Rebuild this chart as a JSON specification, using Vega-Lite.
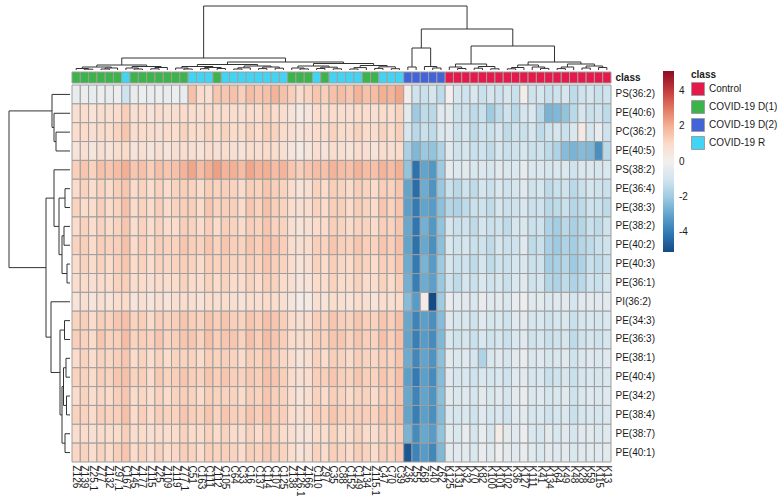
{
"$schema":"https://vega.github.io/schema/vega-lite/v6.json",
"padding":{"left":8,"top":5,"right":0,"bottom":0},
"columns":2,
"spacing":{"row":2,"column":2},
"bounds":"flush",
"config":{"view":{"stroke":null},"font":"Liberation Sans","axis":{"labelColor":"#1a1a1a"},"legend":{"labelColor":"#1a1a1a","titleColor":"#1a1a1a"}},
"concat":[
{"width":61,"height":64,"data":{"values":[]},"mark":"point","encoding":{}},
{"width":539,"height":64,
"data":{"values":[
{"xl":2,"xr":3,"hl":0,"hr":0,"h":0.8},{"xl":1,"xr":2.5,"hl":0,"hr":0.8,"h":1.5},{"xl":4,"xr":5,"hl":0,"hr":0,"h":1},{"xl":4.5,"xr":6,"hl":1,"hr":0,"h":2},{"xl":1.75,"xr":5.25,"hl":1.5,"hr":2,"h":3},
{"xl":8,"xr":9,"hl":0,"hr":0,"h":1},{"xl":7,"xr":8.5,"hl":0,"hr":1,"h":2},{"xl":10,"xr":11,"hl":0,"hr":0,"h":1.2},{"xl":10.5,"xr":12,"hl":1.2,"hr":0,"h":2.5},{"xl":7.75,"xr":11.25,"hl":2,"hr":2.5,"h":3.5},
{"xl":3.5,"xr":9.5,"hl":3,"hr":3.5,"h":5},{"xl":14,"xr":15,"hl":0,"hr":0,"h":1},{"xl":13,"xr":14.5,"hl":0,"hr":1,"h":2},{"xl":16,"xr":17,"hl":0,"hr":0,"h":1.3},{"xl":18,"xr":19,"hl":0,"hr":0,"h":1.5},
{"xl":16.5,"xr":18.5,"hl":1.3,"hr":1.5,"h":2.5},{"xl":13.75,"xr":17.5,"hl":2,"hr":2.5,"h":3.5},{"xl":20,"xr":21,"hl":0,"hr":0,"h":1},{"xl":20.5,"xr":22,"hl":1,"hr":0,"h":2.2},{"xl":23,"xr":24,"hl":0,"hr":0,"h":1.4},
{"xl":25,"xr":26,"hl":0,"hr":0,"h":1.8},{"xl":23.5,"xr":25.5,"hl":1.4,"hr":1.8,"h":3},{"xl":21.25,"xr":24.5,"hl":2.2,"hr":3,"h":4},{"xl":15.625,"xr":22.875,"hl":3.5,"hr":4,"h":5.5},
{"xl":28,"xr":29,"hl":0,"hr":0,"h":1.1},{"xl":27,"xr":28.5,"hl":0,"hr":1.1,"h":2},{"xl":30,"xr":31,"hl":0,"hr":0,"h":1.5},{"xl":32,"xr":33,"hl":0,"hr":0,"h":1.2},{"xl":30.5,"xr":32.5,"hl":1.5,"hr":1.2,"h":2.8},
{"xl":27.75,"xr":31.5,"hl":2,"hr":2.8,"h":4},{"xl":34,"xr":35,"hl":0,"hr":0,"h":1},{"xl":34.5,"xr":36,"hl":1,"hr":0,"h":2.4},{"xl":37,"xr":38,"hl":0,"hr":0,"h":1.6},{"xl":39,"xr":40,"hl":0,"hr":0,"h":1.3},
{"xl":37.5,"xr":39.5,"hl":1.6,"hr":1.3,"h":3.2},{"xl":35.25,"xr":38.5,"hl":2.4,"hr":3.2,"h":4.5},{"xl":29.625,"xr":36.875,"hl":4,"hr":4.5,"h":6.5},{"xl":19.25,"xr":33.25,"hl":5.5,"hr":6.5,"h":8},{"xl":6.5,"xr":26.25,"hl":5,"hr":8,"h":12},
{"xl":41,"xr":42,"hl":0,"hr":0,"h":3},{"xl":44,"xr":45,"hl":0,"hr":0,"h":2},{"xl":43,"xr":44.5,"hl":0,"hr":2,"h":3.5},{"xl":41.5,"xr":43.75,"hl":3,"hr":3.5,"h":22},
{"xl":47,"xr":48,"hl":0,"hr":0,"h":1.5},{"xl":46,"xr":47.5,"hl":0,"hr":1.5,"h":3},{"xl":49,"xr":50,"hl":0,"hr":0,"h":1.8},{"xl":51,"xr":52,"hl":0,"hr":0,"h":1.2},{"xl":49.5,"xr":51.5,"hl":1.8,"hr":1.2,"h":3.5},
{"xl":46.75,"xr":50.5,"hl":3,"hr":3.5,"h":6},{"xl":53,"xr":54,"hl":0,"hr":0,"h":1.2},{"xl":53.5,"xr":55,"hl":1.2,"hr":0,"h":2.5},{"xl":57,"xr":58,"hl":0,"hr":0,"h":1.6},{"xl":56,"xr":57.5,"hl":0,"hr":1.6,"h":3},
{"xl":54.25,"xr":56.75,"hl":2.5,"hr":3,"h":5},{"xl":59,"xr":60,"hl":0,"hr":0,"h":1.4},{"xl":59.5,"xr":61,"hl":1.4,"hr":0,"h":3},{"xl":62,"xr":63,"hl":0,"hr":0,"h":2},{"xl":64,"xr":65,"hl":0,"hr":0,"h":2.5},
{"xl":62.5,"xr":64.5,"hl":2,"hr":2.5,"h":4},{"xl":60.25,"xr":63.5,"hl":3,"hr":4,"h":6},{"xl":55.5,"xr":61.875,"hl":5,"hr":6,"h":8},{"xl":48.625,"xr":58.6875,"hl":6,"hr":8,"h":24},
{"xl":42.625,"xr":53.65625,"hl":22,"hr":24,"h":41},{"xl":16.375,"xr":48.140625,"hl":12,"hr":41,"h":64}
]},
"layer":[
{"mark":{"type":"rule","color":"#333333","strokeWidth":1},"encoding":{"x":{"field":"xl","type":"quantitative","scale":{"domain":[0.5,65.5],"nice":false,"zero":false},"axis":null},"x2":{"field":"xr"},"y":{"field":"h","type":"quantitative","scale":{"domain":[0,64],"nice":false},"axis":null}}},
{"mark":{"type":"rule","color":"#333333","strokeWidth":1},"encoding":{"x":{"field":"xl","type":"quantitative"},"y":{"field":"hl","type":"quantitative"},"y2":{"field":"h"}}},
{"mark":{"type":"rule","color":"#333333","strokeWidth":1},"encoding":{"x":{"field":"xr","type":"quantitative"},"y":{"field":"hr","type":"quantitative"},"y2":{"field":"h"}}}
]},
{"width":61,"height":11,"data":{"values":[]},"mark":"point","encoding":{}},
{"width":539,"height":11,
"data":{"values":[
{"c":"Z126","class":"COVID-19 D(1)"},{"c":"Z139","class":"COVID-19 D(1)"},{"c":"Z25.1","class":"COVID-19 D(1)"},{"c":"Z77","class":"COVID-19 D(1)"},{"c":"Z132","class":"COVID-19 D(1)"},{"c":"Z97.1","class":"COVID-19 D(1)"},{"c":"C167","class":"COVID-19 R"},{"c":"Z145","class":"COVID-19 D(1)"},{"c":"Z177","class":"COVID-19 D(1)"},{"c":"Z115","class":"COVID-19 D(1)"},
{"c":"Z25","class":"COVID-19 D(1)"},{"c":"Z109","class":"COVID-19 D(1)"},{"c":"Z119","class":"COVID-19 D(1)"},{"c":"Z77.1","class":"COVID-19 D(1)"},{"c":"C51","class":"COVID-19 R"},{"c":"C163","class":"COVID-19 R"},{"c":"C111","class":"COVID-19 R"},{"c":"Z112","class":"COVID-19 D(1)"},{"c":"C105","class":"COVID-19 R"},{"c":"C64","class":"COVID-19 R"},
{"c":"C33","class":"COVID-19 R"},{"c":"C16","class":"COVID-19 R"},{"c":"C137","class":"COVID-19 R"},{"c":"C114","class":"COVID-19 R"},{"c":"C107","class":"COVID-19 R"},{"c":"C125","class":"COVID-19 R"},{"c":"Z138","class":"COVID-19 D(1)"},{"c":"Z126.1","class":"COVID-19 D(1)"},{"c":"Z166","class":"COVID-19 D(1)"},{"c":"C110","class":"COVID-19 R"},
{"c":"Z97","class":"COVID-19 D(1)"},{"c":"C35","class":"COVID-19 R"},{"c":"C88","class":"COVID-19 R"},{"c":"C152","class":"COVID-19 R"},{"c":"C149","class":"COVID-19 R"},{"c":"Z134","class":"COVID-19 D(1)"},{"c":"Z115.1","class":"COVID-19 D(1)"},{"c":"C47","class":"COVID-19 R"},{"c":"C70","class":"COVID-19 R"},{"c":"C39","class":"COVID-19 R"},
{"c":"Z36","class":"COVID-19 D(2)"},{"c":"Z55","class":"COVID-19 D(2)"},{"c":"Z68","class":"COVID-19 D(2)"},{"c":"Z40","class":"COVID-19 D(2)"},{"c":"Z62","class":"COVID-19 D(2)"},
{"c":"K125","class":"Control"},{"c":"K131","class":"Control"},{"c":"K32","class":"Control"},{"c":"K70","class":"Control"},{"c":"K82","class":"Control"},{"c":"K100","class":"Control"},{"c":"K101","class":"Control"},{"c":"K102","class":"Control"},{"c":"K36","class":"Control"},{"c":"K127","class":"Control"},
{"c":"K111","class":"Control"},{"c":"K41","class":"Control"},{"c":"K134","class":"Control"},{"c":"K64","class":"Control"},{"c":"K49","class":"Control"},{"c":"K48","class":"Control"},{"c":"K28","class":"Control"},{"c":"K59","class":"Control"},{"c":"K115","class":"Control"},{"c":"K13","class":"Control"}
]},
"mark":{"type":"rect","stroke":"#9e9e9e","strokeWidth":1},
"encoding":{
"x":{"field":"c","type":"nominal","scale":{"domain":["Z126","Z139","Z25.1","Z77","Z132","Z97.1","C167","Z145","Z177","Z115","Z25","Z109","Z119","Z77.1","C51","C163","C111","Z112","C105","C64","C33","C16","C137","C114","C107","C125","Z138","Z126.1","Z166","C110","Z97","C35","C88","C152","C149","Z134","Z115.1","C47","C70","C39","Z36","Z55","Z68","Z40","Z62","K125","K131","K32","K70","K82","K100","K101","K102","K36","K127","K111","K41","K134","K64","K49","K48","K28","K59","K115","K13"],"paddingInner":0,"paddingOuter":0},"axis":null},
"y":{"datum":"class","type":"nominal","axis":{"orient":"right","title":null,"ticks":false,"domain":false,"labelFontSize":10,"labelFontWeight":"bold","labelPadding":4}},
"color":{"field":"class","type":"nominal","scale":{"domain":["Control","COVID-19 D(1)","COVID-19 D(2)","COVID-19 R"],"range":["#e6194b","#3cb44b","#4363d8","#42d4f4"]},
"legend":{"orient":"none","legendX":682,"legendY":64,"title":"class","titleFontSize":10,"titleFontWeight":"bold","titlePadding":2,"labelFontSize":10,"symbolType":"square","symbolSize":169,"symbolStrokeColor":"#9e9e9e","symbolStrokeWidth":1,"rowPadding":0,"labelOffset":4}}
}},
{"width":61,"height":377,
"data":{"values":[
{"yl":3,"yr":4,"dl":0,"dr":0,"d":14},{"yl":2,"yr":3.5,"dl":0,"dr":14,"d":16},{"yl":1,"yr":2.75,"dl":0,"dr":16,"d":18},
{"yl":6,"yr":7,"dl":0,"dr":0,"d":5},{"yl":8,"yr":9,"dl":0,"dr":0,"d":6},{"yl":10,"yr":11,"dl":0,"dr":0,"d":3},{"yl":8.5,"yr":10.5,"dl":6,"dr":3,"d":8},{"yl":6.5,"yr":9.5,"dl":5,"dr":8,"d":11},{"yl":5,"yr":8,"dl":0,"dr":11,"d":16},
{"yl":13,"yr":14,"dl":0,"dr":0,"d":5.5},{"yl":15,"yr":16,"dl":0,"dr":0,"d":4},{"yl":17,"yr":18,"dl":0,"dr":0,"d":3.5},{"yl":15.5,"yr":17.5,"dl":4,"dr":3.5,"d":6.5},{"yl":19,"yr":20,"dl":0,"dr":0,"d":5},{"yl":16.5,"yr":19.5,"dl":6.5,"dr":5,"d":8},
{"yl":13.5,"yr":18,"dl":5.5,"dr":8,"d":10},{"yl":12,"yr":15.75,"dl":0,"dr":10,"d":19},{"yl":6.5,"yr":13.875,"dl":16,"dr":19,"d":24},{"yl":1.875,"yr":10.1875,"dl":18,"dr":24,"d":61}
]},
"layer":[
{"mark":{"type":"rule","color":"#333333","strokeWidth":1},"encoding":{"x":{"field":"d","type":"quantitative","scale":{"domain":[0,61],"reverse":true,"nice":false},"axis":null},"y":{"field":"yl","type":"quantitative","scale":{"domain":[0.5,20.5],"reverse":true,"nice":false,"zero":false},"axis":null},"y2":{"field":"yr"}}},
{"mark":{"type":"rule","color":"#333333","strokeWidth":1},"encoding":{"x":{"field":"dl","type":"quantitative"},"x2":{"field":"d"},"y":{"field":"yl","type":"quantitative"}}},
{"mark":{"type":"rule","color":"#333333","strokeWidth":1},"encoding":{"x":{"field":"dr","type":"quantitative"},"x2":{"field":"d"},"y":{"field":"yr","type":"quantitative"}}}
]},
{"width":539,"height":377,
"data":{"values":[
{"r":"PS(36:2)","c":"Z126","v":-0.3},{"r":"PS(36:2)","c":"Z139","v":-0.2},{"r":"PS(36:2)","c":"Z25.1","v":-0.3},{"r":"PS(36:2)","c":"Z77","v":-0.2},{"r":"PS(36:2)","c":"Z132","v":-0.3},{"r":"PS(36:2)","c":"Z97.1","v":-0.2},{"r":"PS(36:2)","c":"C167","v":-1.1},{"r":"PS(36:2)","c":"Z145","v":-0.3},{"r":"PS(36:2)","c":"Z177","v":-0.2},{"r":"PS(36:2)","c":"Z115","v":-0.3},{"r":"PS(36:2)","c":"Z25","v":-0.2},{"r":"PS(36:2)","c":"Z109","v":-0.3},{"r":"PS(36:2)","c":"Z119","v":-0.2},{"r":"PS(36:2)","c":"Z77.1","v":-0.3},{"r":"PS(36:2)","c":"C51","v":1.6},{"r":"PS(36:2)","c":"C163","v":1.0},{"r":"PS(36:2)","c":"C111","v":0.8},{"r":"PS(36:2)","c":"Z112","v":1.5},{"r":"PS(36:2)","c":"C105","v":1.5},{"r":"PS(36:2)","c":"C64","v":1.6},{"r":"PS(36:2)","c":"C33","v":1.3},{"r":"PS(36:2)","c":"C16","v":1.7},{"r":"PS(36:2)","c":"C137","v":1.5},{"r":"PS(36:2)","c":"C114","v":1.6},{"r":"PS(36:2)","c":"C107","v":1.9},{"r":"PS(36:2)","c":"C125","v":1.6},{"r":"PS(36:2)","c":"Z138","v":1.3},{"r":"PS(36:2)","c":"Z126.1","v":1.0},{"r":"PS(36:2)","c":"Z166","v":1.2},{"r":"PS(36:2)","c":"C110","v":1.5},{"r":"PS(36:2)","c":"Z97","v":1.3},{"r":"PS(36:2)","c":"C35","v":1.6},{"r":"PS(36:2)","c":"C88","v":1.7},{"r":"PS(36:2)","c":"C152","v":1.5},{"r":"PS(36:2)","c":"C149","v":1.9},{"r":"PS(36:2)","c":"Z134","v":1.6},{"r":"PS(36:2)","c":"Z115.1","v":1.7},{"r":"PS(36:2)","c":"C47","v":2.0},{"r":"PS(36:2)","c":"C70","v":1.9},{"r":"PS(36:2)","c":"C39","v":2.2},{"r":"PS(36:2)","c":"Z36","v":0.1},{"r":"PS(36:2)","c":"Z55","v":-1.1},{"r":"PS(36:2)","c":"Z68","v":-1.2},{"r":"PS(36:2)","c":"Z40","v":-0.9},{"r":"PS(36:2)","c":"Z62","v":-1.4},{"r":"PS(36:2)","c":"K125","v":0.0},{"r":"PS(36:2)","c":"K131","v":-0.9},{"r":"PS(36:2)","c":"K32","v":-1.1},{"r":"PS(36:2)","c":"K70","v":-0.8},{"r":"PS(36:2)","c":"K82","v":-1.2},{"r":"PS(36:2)","c":"K100","v":-0.9},{"r":"PS(36:2)","c":"K101","v":-1.1},{"r":"PS(36:2)","c":"K102","v":-0.9},{"r":"PS(36:2)","c":"K36","v":-1.2},{"r":"PS(36:2)","c":"K127","v":0.1},{"r":"PS(36:2)","c":"K111","v":-1.1},{"r":"PS(36:2)","c":"K41","v":-0.9},{"r":"PS(36:2)","c":"K134","v":-1.2},{"r":"PS(36:2)","c":"K64","v":-1.1},{"r":"PS(36:2)","c":"K49","v":-0.9},{"r":"PS(36:2)","c":"K48","v":-1.4},{"r":"PS(36:2)","c":"K28","v":-1.1},{"r":"PS(36:2)","c":"K59","v":-0.9},{"r":"PS(36:2)","c":"K115","v":-1.2},{"r":"PS(36:2)","c":"K13","v":-1.1},
{"r":"PE(40:6)","c":"Z126","v":0.8},{"r":"PE(40:6)","c":"Z139","v":0.9},{"r":"PE(40:6)","c":"Z25.1","v":0.6},{"r":"PE(40:6)","c":"Z77","v":0.9},{"r":"PE(40:6)","c":"Z132","v":0.8},{"r":"PE(40:6)","c":"Z97.1","v":1.0},{"r":"PE(40:6)","c":"C167","v":1.3},{"r":"PE(40:6)","c":"Z145","v":0.8},{"r":"PE(40:6)","c":"Z177","v":0.9},{"r":"PE(40:6)","c":"Z115","v":0.6},{"r":"PE(40:6)","c":"Z25","v":0.9},{"r":"PE(40:6)","c":"Z109","v":0.8},{"r":"PE(40:6)","c":"Z119","v":0.9},{"r":"PE(40:6)","c":"Z77.1","v":1.0},{"r":"PE(40:6)","c":"C51","v":0.9},{"r":"PE(40:6)","c":"C163","v":0.8},{"r":"PE(40:6)","c":"C111","v":1.0},{"r":"PE(40:6)","c":"Z112","v":0.9},{"r":"PE(40:6)","c":"C105","v":1.0},{"r":"PE(40:6)","c":"C64","v":0.9},{"r":"PE(40:6)","c":"C33","v":0.8},{"r":"PE(40:6)","c":"C16","v":1.0},{"r":"PE(40:6)","c":"C137","v":0.9},{"r":"PE(40:6)","c":"C114","v":1.2},{"r":"PE(40:6)","c":"C107","v":1.0},{"r":"PE(40:6)","c":"C125","v":0.9},{"r":"PE(40:6)","c":"Z138","v":0.6},{"r":"PE(40:6)","c":"Z126.1","v":0.3},{"r":"PE(40:6)","c":"Z166","v":0.5},{"r":"PE(40:6)","c":"C110","v":0.9},{"r":"PE(40:6)","c":"Z97","v":0.8},{"r":"PE(40:6)","c":"C35","v":1.0},{"r":"PE(40:6)","c":"C88","v":0.9},{"r":"PE(40:6)","c":"C152","v":0.8},{"r":"PE(40:6)","c":"C149","v":1.0},{"r":"PE(40:6)","c":"Z134","v":0.9},{"r":"PE(40:6)","c":"Z115.1","v":0.8},{"r":"PE(40:6)","c":"C47","v":1.0},{"r":"PE(40:6)","c":"C70","v":0.9},{"r":"PE(40:6)","c":"C39","v":1.2},{"r":"PE(40:6)","c":"Z36","v":-0.5},{"r":"PE(40:6)","c":"Z55","v":-2.0},{"r":"PE(40:6)","c":"Z68","v":-1.4},{"r":"PE(40:6)","c":"Z40","v":-1.5},{"r":"PE(40:6)","c":"Z62","v":-0.6},{"r":"PE(40:6)","c":"K125","v":-0.5},{"r":"PE(40:6)","c":"K131","v":-1.2},{"r":"PE(40:6)","c":"K32","v":-1.1},{"r":"PE(40:6)","c":"K70","v":-1.4},{"r":"PE(40:6)","c":"K82","v":-1.2},{"r":"PE(40:6)","c":"K100","v":-2.0},{"r":"PE(40:6)","c":"K101","v":-1.4},{"r":"PE(40:6)","c":"K102","v":-1.1},{"r":"PE(40:6)","c":"K36","v":-1.5},{"r":"PE(40:6)","c":"K127","v":-0.9},{"r":"PE(40:6)","c":"K111","v":-0.8},{"r":"PE(40:6)","c":"K41","v":-1.5},{"r":"PE(40:6)","c":"K134","v":-2.6},{"r":"PE(40:6)","c":"K64","v":-2.5},{"r":"PE(40:6)","c":"K49","v":-2.2},{"r":"PE(40:6)","c":"K48","v":-1.5},{"r":"PE(40:6)","c":"K28","v":-0.9},{"r":"PE(40:6)","c":"K59","v":-1.2},{"r":"PE(40:6)","c":"K115","v":-1.1},{"r":"PE(40:6)","c":"K13","v":-1.4},
{"r":"PC(36:2)","c":"Z126","v":0.9},{"r":"PC(36:2)","c":"Z139","v":1.0},{"r":"PC(36:2)","c":"Z25.1","v":0.8},{"r":"PC(36:2)","c":"Z77","v":1.0},{"r":"PC(36:2)","c":"Z132","v":0.9},{"r":"PC(36:2)","c":"Z97.1","v":1.2},{"r":"PC(36:2)","c":"C167","v":1.5},{"r":"PC(36:2)","c":"Z145","v":0.9},{"r":"PC(36:2)","c":"Z177","v":1.0},{"r":"PC(36:2)","c":"Z115","v":0.9},{"r":"PC(36:2)","c":"Z25","v":0.8},{"r":"PC(36:2)","c":"Z109","v":1.0},{"r":"PC(36:2)","c":"Z119","v":0.9},{"r":"PC(36:2)","c":"Z77.1","v":1.2},{"r":"PC(36:2)","c":"C51","v":1.0},{"r":"PC(36:2)","c":"C163","v":0.9},{"r":"PC(36:2)","c":"C111","v":1.2},{"r":"PC(36:2)","c":"Z112","v":1.0},{"r":"PC(36:2)","c":"C105","v":1.2},{"r":"PC(36:2)","c":"C64","v":1.0},{"r":"PC(36:2)","c":"C33","v":0.9},{"r":"PC(36:2)","c":"C16","v":1.2},{"r":"PC(36:2)","c":"C137","v":1.0},{"r":"PC(36:2)","c":"C114","v":1.3},{"r":"PC(36:2)","c":"C107","v":1.2},{"r":"PC(36:2)","c":"C125","v":1.0},{"r":"PC(36:2)","c":"Z138","v":0.8},{"r":"PC(36:2)","c":"Z126.1","v":0.6},{"r":"PC(36:2)","c":"Z166","v":0.8},{"r":"PC(36:2)","c":"C110","v":1.0},{"r":"PC(36:2)","c":"Z97","v":0.9},{"r":"PC(36:2)","c":"C35","v":1.2},{"r":"PC(36:2)","c":"C88","v":1.0},{"r":"PC(36:2)","c":"C152","v":0.9},{"r":"PC(36:2)","c":"C149","v":1.2},{"r":"PC(36:2)","c":"Z134","v":1.0},{"r":"PC(36:2)","c":"Z115.1","v":0.9},{"r":"PC(36:2)","c":"C47","v":1.2},{"r":"PC(36:2)","c":"C70","v":1.0},{"r":"PC(36:2)","c":"C39","v":1.3},{"r":"PC(36:2)","c":"Z36","v":-0.9},{"r":"PC(36:2)","c":"Z55","v":-1.5},{"r":"PC(36:2)","c":"Z68","v":-1.2},{"r":"PC(36:2)","c":"Z40","v":-1.4},{"r":"PC(36:2)","c":"Z62","v":-0.8},{"r":"PC(36:2)","c":"K125","v":-0.6},{"r":"PC(36:2)","c":"K131","v":-1.2},{"r":"PC(36:2)","c":"K32","v":-0.9},{"r":"PC(36:2)","c":"K70","v":-1.4},{"r":"PC(36:2)","c":"K82","v":-1.1},{"r":"PC(36:2)","c":"K100","v":-1.2},{"r":"PC(36:2)","c":"K101","v":-0.9},{"r":"PC(36:2)","c":"K102","v":-1.4},{"r":"PC(36:2)","c":"K36","v":-1.1},{"r":"PC(36:2)","c":"K127","v":-1.2},{"r":"PC(36:2)","c":"K111","v":-0.9},{"r":"PC(36:2)","c":"K41","v":-1.4},{"r":"PC(36:2)","c":"K134","v":-1.1},{"r":"PC(36:2)","c":"K64","v":-0.9},{"r":"PC(36:2)","c":"K49","v":-1.2},{"r":"PC(36:2)","c":"K48","v":-0.8},{"r":"PC(36:2)","c":"K28","v":0.3},{"r":"PC(36:2)","c":"K59","v":-0.9},{"r":"PC(36:2)","c":"K115","v":-0.3},{"r":"PC(36:2)","c":"K13","v":-1.1},
{"r":"PE(40:5)","c":"Z126","v":0.6},{"r":"PE(40:5)","c":"Z139","v":0.8},{"r":"PE(40:5)","c":"Z25.1","v":0.5},{"r":"PE(40:5)","c":"Z77","v":0.8},{"r":"PE(40:5)","c":"Z132","v":0.6},{"r":"PE(40:5)","c":"Z97.1","v":0.9},{"r":"PE(40:5)","c":"C167","v":1.0},{"r":"PE(40:5)","c":"Z145","v":0.6},{"r":"PE(40:5)","c":"Z177","v":0.8},{"r":"PE(40:5)","c":"Z115","v":0.5},{"r":"PE(40:5)","c":"Z25","v":0.8},{"r":"PE(40:5)","c":"Z109","v":0.6},{"r":"PE(40:5)","c":"Z119","v":0.8},{"r":"PE(40:5)","c":"Z77.1","v":0.9},{"r":"PE(40:5)","c":"C51","v":0.8},{"r":"PE(40:5)","c":"C163","v":0.6},{"r":"PE(40:5)","c":"C111","v":0.9},{"r":"PE(40:5)","c":"Z112","v":0.8},{"r":"PE(40:5)","c":"C105","v":0.9},{"r":"PE(40:5)","c":"C64","v":0.8},{"r":"PE(40:5)","c":"C33","v":0.6},{"r":"PE(40:5)","c":"C16","v":0.9},{"r":"PE(40:5)","c":"C137","v":0.8},{"r":"PE(40:5)","c":"C114","v":1.0},{"r":"PE(40:5)","c":"C107","v":0.9},{"r":"PE(40:5)","c":"C125","v":0.8},{"r":"PE(40:5)","c":"Z138","v":0.5},{"r":"PE(40:5)","c":"Z126.1","v":0.3},{"r":"PE(40:5)","c":"Z166","v":0.5},{"r":"PE(40:5)","c":"C110","v":0.8},{"r":"PE(40:5)","c":"Z97","v":0.6},{"r":"PE(40:5)","c":"C35","v":0.9},{"r":"PE(40:5)","c":"C88","v":0.8},{"r":"PE(40:5)","c":"C152","v":0.6},{"r":"PE(40:5)","c":"C149","v":0.9},{"r":"PE(40:5)","c":"Z134","v":0.8},{"r":"PE(40:5)","c":"Z115.1","v":0.6},{"r":"PE(40:5)","c":"C47","v":0.9},{"r":"PE(40:5)","c":"C70","v":0.8},{"r":"PE(40:5)","c":"C39","v":1.0},{"r":"PE(40:5)","c":"Z36","v":-1.8},{"r":"PE(40:5)","c":"Z55","v":-2.5},{"r":"PE(40:5)","c":"Z68","v":-2.1},{"r":"PE(40:5)","c":"Z40","v":-2.2},{"r":"PE(40:5)","c":"Z62","v":-1.7},{"r":"PE(40:5)","c":"K125","v":-0.6},{"r":"PE(40:5)","c":"K131","v":-1.1},{"r":"PE(40:5)","c":"K32","v":-0.9},{"r":"PE(40:5)","c":"K70","v":-1.2},{"r":"PE(40:5)","c":"K82","v":-1.1},{"r":"PE(40:5)","c":"K100","v":-1.4},{"r":"PE(40:5)","c":"K101","v":-0.9},{"r":"PE(40:5)","c":"K102","v":-1.2},{"r":"PE(40:5)","c":"K36","v":-1.1},{"r":"PE(40:5)","c":"K127","v":-0.9},{"r":"PE(40:5)","c":"K111","v":-1.2},{"r":"PE(40:5)","c":"K41","v":-1.1},{"r":"PE(40:5)","c":"K134","v":-1.4},{"r":"PE(40:5)","c":"K64","v":-1.7},{"r":"PE(40:5)","c":"K49","v":-2.4},{"r":"PE(40:5)","c":"K48","v":-2.6},{"r":"PE(40:5)","c":"K28","v":-2.4},{"r":"PE(40:5)","c":"K59","v":-2.5},{"r":"PE(40:5)","c":"K115","v":-3.5},{"r":"PE(40:5)","c":"K13","v":-1.5},
{"r":"PS(38:2)","c":"Z126","v":1.3},{"r":"PS(38:2)","c":"Z139","v":1.5},{"r":"PS(38:2)","c":"Z25.1","v":1.2},{"r":"PS(38:2)","c":"Z77","v":1.6},{"r":"PS(38:2)","c":"Z132","v":1.5},{"r":"PS(38:2)","c":"Z97.1","v":1.7},{"r":"PS(38:2)","c":"C167","v":2.0},{"r":"PS(38:2)","c":"Z145","v":1.5},{"r":"PS(38:2)","c":"Z177","v":1.6},{"r":"PS(38:2)","c":"Z115","v":1.3},{"r":"PS(38:2)","c":"Z25","v":1.6},{"r":"PS(38:2)","c":"Z109","v":1.5},{"r":"PS(38:2)","c":"Z119","v":1.6},{"r":"PS(38:2)","c":"Z77.1","v":1.9},{"r":"PS(38:2)","c":"C51","v":2.2},{"r":"PS(38:2)","c":"C163","v":1.7},{"r":"PS(38:2)","c":"C111","v":2.0},{"r":"PS(38:2)","c":"Z112","v":2.3},{"r":"PS(38:2)","c":"C105","v":1.9},{"r":"PS(38:2)","c":"C64","v":2.0},{"r":"PS(38:2)","c":"C33","v":1.7},{"r":"PS(38:2)","c":"C16","v":2.2},{"r":"PS(38:2)","c":"C137","v":1.9},{"r":"PS(38:2)","c":"C114","v":2.0},{"r":"PS(38:2)","c":"C107","v":1.7},{"r":"PS(38:2)","c":"C125","v":1.9},{"r":"PS(38:2)","c":"Z138","v":1.5},{"r":"PS(38:2)","c":"Z126.1","v":1.3},{"r":"PS(38:2)","c":"Z166","v":1.5},{"r":"PS(38:2)","c":"C110","v":1.7},{"r":"PS(38:2)","c":"Z97","v":1.6},{"r":"PS(38:2)","c":"C35","v":1.9},{"r":"PS(38:2)","c":"C88","v":1.7},{"r":"PS(38:2)","c":"C152","v":1.6},{"r":"PS(38:2)","c":"C149","v":1.9},{"r":"PS(38:2)","c":"Z134","v":1.7},{"r":"PS(38:2)","c":"Z115.1","v":1.6},{"r":"PS(38:2)","c":"C47","v":1.9},{"r":"PS(38:2)","c":"C70","v":1.7},{"r":"PS(38:2)","c":"C39","v":2.0},{"r":"PS(38:2)","c":"Z36","v":-2.2},{"r":"PS(38:2)","c":"Z55","v":-4.2},{"r":"PS(38:2)","c":"Z68","v":-3.0},{"r":"PS(38:2)","c":"Z40","v":-3.3},{"r":"PS(38:2)","c":"Z62","v":-2.0},{"r":"PS(38:2)","c":"K125","v":-0.4},{"r":"PS(38:2)","c":"K131","v":-0.7},{"r":"PS(38:2)","c":"K32","v":-0.5},{"r":"PS(38:2)","c":"K70","v":-0.8},{"r":"PS(38:2)","c":"K82","v":-0.7},{"r":"PS(38:2)","c":"K100","v":-0.9},{"r":"PS(38:2)","c":"K101","v":-0.5},{"r":"PS(38:2)","c":"K102","v":-0.8},{"r":"PS(38:2)","c":"K36","v":-0.7},{"r":"PS(38:2)","c":"K127","v":-0.4},{"r":"PS(38:2)","c":"K111","v":-0.8},{"r":"PS(38:2)","c":"K41","v":-0.7},{"r":"PS(38:2)","c":"K134","v":-0.9},{"r":"PS(38:2)","c":"K64","v":-0.8},{"r":"PS(38:2)","c":"K49","v":-0.7},{"r":"PS(38:2)","c":"K48","v":-1.1},{"r":"PS(38:2)","c":"K28","v":-0.8},{"r":"PS(38:2)","c":"K59","v":-0.7},{"r":"PS(38:2)","c":"K115","v":-0.9},{"r":"PS(38:2)","c":"K13","v":-0.8},
{"r":"PE(36:4)","c":"Z126","v":1.0},{"r":"PE(36:4)","c":"Z139","v":1.2},{"r":"PE(36:4)","c":"Z25.1","v":0.9},{"r":"PE(36:4)","c":"Z77","v":1.2},{"r":"PE(36:4)","c":"Z132","v":1.0},{"r":"PE(36:4)","c":"Z97.1","v":1.3},{"r":"PE(36:4)","c":"C167","v":1.5},{"r":"PE(36:4)","c":"Z145","v":1.0},{"r":"PE(36:4)","c":"Z177","v":1.2},{"r":"PE(36:4)","c":"Z115","v":0.9},{"r":"PE(36:4)","c":"Z25","v":1.2},{"r":"PE(36:4)","c":"Z109","v":1.0},{"r":"PE(36:4)","c":"Z119","v":1.2},{"r":"PE(36:4)","c":"Z77.1","v":1.3},{"r":"PE(36:4)","c":"C51","v":1.2},{"r":"PE(36:4)","c":"C163","v":1.0},{"r":"PE(36:4)","c":"C111","v":1.3},{"r":"PE(36:4)","c":"Z112","v":1.2},{"r":"PE(36:4)","c":"C105","v":1.3},{"r":"PE(36:4)","c":"C64","v":1.2},{"r":"PE(36:4)","c":"C33","v":1.0},{"r":"PE(36:4)","c":"C16","v":1.3},{"r":"PE(36:4)","c":"C137","v":1.2},{"r":"PE(36:4)","c":"C114","v":1.5},{"r":"PE(36:4)","c":"C107","v":1.3},{"r":"PE(36:4)","c":"C125","v":1.2},{"r":"PE(36:4)","c":"Z138","v":0.9},{"r":"PE(36:4)","c":"Z126.1","v":0.6},{"r":"PE(36:4)","c":"Z166","v":0.8},{"r":"PE(36:4)","c":"C110","v":1.2},{"r":"PE(36:4)","c":"Z97","v":1.0},{"r":"PE(36:4)","c":"C35","v":1.3},{"r":"PE(36:4)","c":"C88","v":1.2},{"r":"PE(36:4)","c":"C152","v":1.0},{"r":"PE(36:4)","c":"C149","v":1.3},{"r":"PE(36:4)","c":"Z134","v":1.2},{"r":"PE(36:4)","c":"Z115.1","v":1.0},{"r":"PE(36:4)","c":"C47","v":1.3},{"r":"PE(36:4)","c":"C70","v":1.2},{"r":"PE(36:4)","c":"C39","v":1.5},{"r":"PE(36:4)","c":"Z36","v":-3.0},{"r":"PE(36:4)","c":"Z55","v":-4.3},{"r":"PE(36:4)","c":"Z68","v":-2.8},{"r":"PE(36:4)","c":"Z40","v":-3.4},{"r":"PE(36:4)","c":"Z62","v":-2.1},{"r":"PE(36:4)","c":"K125","v":-1.2},{"r":"PE(36:4)","c":"K131","v":-1.5},{"r":"PE(36:4)","c":"K32","v":-1.1},{"r":"PE(36:4)","c":"K70","v":-1.4},{"r":"PE(36:4)","c":"K82","v":-0.9},{"r":"PE(36:4)","c":"K100","v":-1.2},{"r":"PE(36:4)","c":"K101","v":-0.8},{"r":"PE(36:4)","c":"K102","v":-1.1},{"r":"PE(36:4)","c":"K36","v":-0.9},{"r":"PE(36:4)","c":"K127","v":-0.6},{"r":"PE(36:4)","c":"K111","v":-1.1},{"r":"PE(36:4)","c":"K41","v":-0.9},{"r":"PE(36:4)","c":"K134","v":-1.4},{"r":"PE(36:4)","c":"K64","v":-1.2},{"r":"PE(36:4)","c":"K49","v":-1.1},{"r":"PE(36:4)","c":"K48","v":-1.5},{"r":"PE(36:4)","c":"K28","v":-1.2},{"r":"PE(36:4)","c":"K59","v":-0.9},{"r":"PE(36:4)","c":"K115","v":-1.1},{"r":"PE(36:4)","c":"K13","v":-1.2},
{"r":"PE(38:3)","c":"Z126","v":1.2},{"r":"PE(38:3)","c":"Z139","v":1.0},{"r":"PE(38:3)","c":"Z25.1","v":0.9},{"r":"PE(38:3)","c":"Z77","v":1.3},{"r":"PE(38:3)","c":"Z132","v":1.0},{"r":"PE(38:3)","c":"Z97.1","v":1.2},{"r":"PE(38:3)","c":"C167","v":1.6},{"r":"PE(38:3)","c":"Z145","v":1.0},{"r":"PE(38:3)","c":"Z177","v":1.2},{"r":"PE(38:3)","c":"Z115","v":1.0},{"r":"PE(38:3)","c":"Z25","v":1.3},{"r":"PE(38:3)","c":"Z109","v":1.0},{"r":"PE(38:3)","c":"Z119","v":1.2},{"r":"PE(38:3)","c":"Z77.1","v":1.3},{"r":"PE(38:3)","c":"C51","v":1.3},{"r":"PE(38:3)","c":"C163","v":1.0},{"r":"PE(38:3)","c":"C111","v":1.5},{"r":"PE(38:3)","c":"Z112","v":1.2},{"r":"PE(38:3)","c":"C105","v":1.3},{"r":"PE(38:3)","c":"C64","v":1.3},{"r":"PE(38:3)","c":"C33","v":1.0},{"r":"PE(38:3)","c":"C16","v":1.5},{"r":"PE(38:3)","c":"C137","v":1.2},{"r":"PE(38:3)","c":"C114","v":1.6},{"r":"PE(38:3)","c":"C107","v":1.3},{"r":"PE(38:3)","c":"C125","v":1.2},{"r":"PE(38:3)","c":"Z138","v":0.9},{"r":"PE(38:3)","c":"Z126.1","v":0.8},{"r":"PE(38:3)","c":"Z166","v":0.9},{"r":"PE(38:3)","c":"C110","v":1.2},{"r":"PE(38:3)","c":"Z97","v":1.0},{"r":"PE(38:3)","c":"C35","v":1.3},{"r":"PE(38:3)","c":"C88","v":1.3},{"r":"PE(38:3)","c":"C152","v":1.0},{"r":"PE(38:3)","c":"C149","v":1.3},{"r":"PE(38:3)","c":"Z134","v":1.2},{"r":"PE(38:3)","c":"Z115.1","v":1.0},{"r":"PE(38:3)","c":"C47","v":1.5},{"r":"PE(38:3)","c":"C70","v":1.2},{"r":"PE(38:3)","c":"C39","v":1.5},{"r":"PE(38:3)","c":"Z36","v":-3.1},{"r":"PE(38:3)","c":"Z55","v":-4.0},{"r":"PE(38:3)","c":"Z68","v":-3.0},{"r":"PE(38:3)","c":"Z40","v":-3.2},{"r":"PE(38:3)","c":"Z62","v":-2.3},{"r":"PE(38:3)","c":"K125","v":-1.6},{"r":"PE(38:3)","c":"K131","v":-1.7},{"r":"PE(38:3)","c":"K32","v":-1.4},{"r":"PE(38:3)","c":"K70","v":-1.2},{"r":"PE(38:3)","c":"K82","v":-1.1},{"r":"PE(38:3)","c":"K100","v":-1.4},{"r":"PE(38:3)","c":"K101","v":-0.9},{"r":"PE(38:3)","c":"K102","v":-1.2},{"r":"PE(38:3)","c":"K36","v":-1.1},{"r":"PE(38:3)","c":"K127","v":-0.8},{"r":"PE(38:3)","c":"K111","v":-1.2},{"r":"PE(38:3)","c":"K41","v":-1.1},{"r":"PE(38:3)","c":"K134","v":-1.5},{"r":"PE(38:3)","c":"K64","v":-1.4},{"r":"PE(38:3)","c":"K49","v":-1.2},{"r":"PE(38:3)","c":"K48","v":-1.6},{"r":"PE(38:3)","c":"K28","v":-1.4},{"r":"PE(38:3)","c":"K59","v":-1.1},{"r":"PE(38:3)","c":"K115","v":-1.2},{"r":"PE(38:3)","c":"K13","v":-1.4},
{"r":"PE(38:2)","c":"Z126","v":1.0},{"r":"PE(38:2)","c":"Z139","v":1.2},{"r":"PE(38:2)","c":"Z25.1","v":0.9},{"r":"PE(38:2)","c":"Z77","v":1.2},{"r":"PE(38:2)","c":"Z132","v":1.0},{"r":"PE(38:2)","c":"Z97.1","v":1.2},{"r":"PE(38:2)","c":"C167","v":1.5},{"r":"PE(38:2)","c":"Z145","v":0.9},{"r":"PE(38:2)","c":"Z177","v":1.2},{"r":"PE(38:2)","c":"Z115","v":0.9},{"r":"PE(38:2)","c":"Z25","v":1.2},{"r":"PE(38:2)","c":"Z109","v":1.0},{"r":"PE(38:2)","c":"Z119","v":1.0},{"r":"PE(38:2)","c":"Z77.1","v":1.3},{"r":"PE(38:2)","c":"C51","v":1.2},{"r":"PE(38:2)","c":"C163","v":1.0},{"r":"PE(38:2)","c":"C111","v":1.3},{"r":"PE(38:2)","c":"Z112","v":1.0},{"r":"PE(38:2)","c":"C105","v":1.3},{"r":"PE(38:2)","c":"C64","v":1.2},{"r":"PE(38:2)","c":"C33","v":1.0},{"r":"PE(38:2)","c":"C16","v":1.3},{"r":"PE(38:2)","c":"C137","v":1.2},{"r":"PE(38:2)","c":"C114","v":1.5},{"r":"PE(38:2)","c":"C107","v":1.2},{"r":"PE(38:2)","c":"C125","v":1.2},{"r":"PE(38:2)","c":"Z138","v":0.8},{"r":"PE(38:2)","c":"Z126.1","v":0.6},{"r":"PE(38:2)","c":"Z166","v":0.8},{"r":"PE(38:2)","c":"C110","v":1.0},{"r":"PE(38:2)","c":"Z97","v":1.0},{"r":"PE(38:2)","c":"C35","v":1.3},{"r":"PE(38:2)","c":"C88","v":1.2},{"r":"PE(38:2)","c":"C152","v":1.0},{"r":"PE(38:2)","c":"C149","v":1.2},{"r":"PE(38:2)","c":"Z134","v":1.2},{"r":"PE(38:2)","c":"Z115.1","v":1.0},{"r":"PE(38:2)","c":"C47","v":1.3},{"r":"PE(38:2)","c":"C70","v":1.2},{"r":"PE(38:2)","c":"C39","v":1.5},{"r":"PE(38:2)","c":"Z36","v":-2.9},{"r":"PE(38:2)","c":"Z55","v":-4.1},{"r":"PE(38:2)","c":"Z68","v":-2.7},{"r":"PE(38:2)","c":"Z40","v":-3.3},{"r":"PE(38:2)","c":"Z62","v":-2.2},{"r":"PE(38:2)","c":"K125","v":-0.9},{"r":"PE(38:2)","c":"K131","v":-1.2},{"r":"PE(38:2)","c":"K32","v":-1.1},{"r":"PE(38:2)","c":"K70","v":-1.4},{"r":"PE(38:2)","c":"K82","v":-0.9},{"r":"PE(38:2)","c":"K100","v":-1.2},{"r":"PE(38:2)","c":"K101","v":-1.1},{"r":"PE(38:2)","c":"K102","v":-1.4},{"r":"PE(38:2)","c":"K36","v":-0.9},{"r":"PE(38:2)","c":"K127","v":-0.8},{"r":"PE(38:2)","c":"K111","v":-1.2},{"r":"PE(38:2)","c":"K41","v":-1.1},{"r":"PE(38:2)","c":"K134","v":-1.7},{"r":"PE(38:2)","c":"K64","v":-1.9},{"r":"PE(38:2)","c":"K49","v":-1.5},{"r":"PE(38:2)","c":"K48","v":-1.8},{"r":"PE(38:2)","c":"K28","v":-1.6},{"r":"PE(38:2)","c":"K59","v":-1.2},{"r":"PE(38:2)","c":"K115","v":-1.4},{"r":"PE(38:2)","c":"K13","v":-1.1},
{"r":"PE(40:2)","c":"Z126","v":1.2},{"r":"PE(40:2)","c":"Z139","v":1.3},{"r":"PE(40:2)","c":"Z25.1","v":1.0},{"r":"PE(40:2)","c":"Z77","v":1.3},{"r":"PE(40:2)","c":"Z132","v":1.2},{"r":"PE(40:2)","c":"Z97.1","v":1.3},{"r":"PE(40:2)","c":"C167","v":1.6},{"r":"PE(40:2)","c":"Z145","v":1.0},{"r":"PE(40:2)","c":"Z177","v":1.3},{"r":"PE(40:2)","c":"Z115","v":1.0},{"r":"PE(40:2)","c":"Z25","v":1.3},{"r":"PE(40:2)","c":"Z109","v":1.2},{"r":"PE(40:2)","c":"Z119","v":1.2},{"r":"PE(40:2)","c":"Z77.1","v":1.5},{"r":"PE(40:2)","c":"C51","v":1.3},{"r":"PE(40:2)","c":"C163","v":1.2},{"r":"PE(40:2)","c":"C111","v":1.5},{"r":"PE(40:2)","c":"Z112","v":1.2},{"r":"PE(40:2)","c":"C105","v":1.5},{"r":"PE(40:2)","c":"C64","v":1.3},{"r":"PE(40:2)","c":"C33","v":1.2},{"r":"PE(40:2)","c":"C16","v":1.5},{"r":"PE(40:2)","c":"C137","v":1.3},{"r":"PE(40:2)","c":"C114","v":1.6},{"r":"PE(40:2)","c":"C107","v":1.5},{"r":"PE(40:2)","c":"C125","v":1.3},{"r":"PE(40:2)","c":"Z138","v":0.9},{"r":"PE(40:2)","c":"Z126.1","v":0.8},{"r":"PE(40:2)","c":"Z166","v":0.9},{"r":"PE(40:2)","c":"C110","v":1.3},{"r":"PE(40:2)","c":"Z97","v":1.2},{"r":"PE(40:2)","c":"C35","v":1.5},{"r":"PE(40:2)","c":"C88","v":1.3},{"r":"PE(40:2)","c":"C152","v":1.2},{"r":"PE(40:2)","c":"C149","v":1.5},{"r":"PE(40:2)","c":"Z134","v":1.3},{"r":"PE(40:2)","c":"Z115.1","v":1.2},{"r":"PE(40:2)","c":"C47","v":1.5},{"r":"PE(40:2)","c":"C70","v":1.3},{"r":"PE(40:2)","c":"C39","v":1.6},{"r":"PE(40:2)","c":"Z36","v":-3.0},{"r":"PE(40:2)","c":"Z55","v":-4.2},{"r":"PE(40:2)","c":"Z68","v":-2.9},{"r":"PE(40:2)","c":"Z40","v":-3.5},{"r":"PE(40:2)","c":"Z62","v":-2.3},{"r":"PE(40:2)","c":"K125","v":-0.8},{"r":"PE(40:2)","c":"K131","v":-1.1},{"r":"PE(40:2)","c":"K32","v":-0.9},{"r":"PE(40:2)","c":"K70","v":-1.2},{"r":"PE(40:2)","c":"K82","v":-1.1},{"r":"PE(40:2)","c":"K100","v":-1.4},{"r":"PE(40:2)","c":"K101","v":-0.9},{"r":"PE(40:2)","c":"K102","v":-1.2},{"r":"PE(40:2)","c":"K36","v":-1.1},{"r":"PE(40:2)","c":"K127","v":-0.6},{"r":"PE(40:2)","c":"K111","v":-1.4},{"r":"PE(40:2)","c":"K41","v":-1.2},{"r":"PE(40:2)","c":"K134","v":-1.8},{"r":"PE(40:2)","c":"K64","v":-2.0},{"r":"PE(40:2)","c":"K49","v":-1.7},{"r":"PE(40:2)","c":"K48","v":-1.9},{"r":"PE(40:2)","c":"K28","v":-1.6},{"r":"PE(40:2)","c":"K59","v":-1.4},{"r":"PE(40:2)","c":"K115","v":-1.2},{"r":"PE(40:2)","c":"K13","v":-1.1},
{"r":"PE(40:3)","c":"Z126","v":1.0},{"r":"PE(40:3)","c":"Z139","v":1.2},{"r":"PE(40:3)","c":"Z25.1","v":1.0},{"r":"PE(40:3)","c":"Z77","v":1.2},{"r":"PE(40:3)","c":"Z132","v":1.0},{"r":"PE(40:3)","c":"Z97.1","v":1.3},{"r":"PE(40:3)","c":"C167","v":1.5},{"r":"PE(40:3)","c":"Z145","v":1.0},{"r":"PE(40:3)","c":"Z177","v":1.2},{"r":"PE(40:3)","c":"Z115","v":0.9},{"r":"PE(40:3)","c":"Z25","v":1.2},{"r":"PE(40:3)","c":"Z109","v":1.1},{"r":"PE(40:3)","c":"Z119","v":1.2},{"r":"PE(40:3)","c":"Z77.1","v":1.3},{"r":"PE(40:3)","c":"C51","v":1.2},{"r":"PE(40:3)","c":"C163","v":1.0},{"r":"PE(40:3)","c":"C111","v":1.3},{"r":"PE(40:3)","c":"Z112","v":1.2},{"r":"PE(40:3)","c":"C105","v":1.3},{"r":"PE(40:3)","c":"C64","v":1.2},{"r":"PE(40:3)","c":"C33","v":1.1},{"r":"PE(40:3)","c":"C16","v":1.3},{"r":"PE(40:3)","c":"C137","v":1.2},{"r":"PE(40:3)","c":"C114","v":1.5},{"r":"PE(40:3)","c":"C107","v":1.3},{"r":"PE(40:3)","c":"C125","v":1.2},{"r":"PE(40:3)","c":"Z138","v":0.9},{"r":"PE(40:3)","c":"Z126.1","v":0.6},{"r":"PE(40:3)","c":"Z166","v":0.8},{"r":"PE(40:3)","c":"C110","v":1.2},{"r":"PE(40:3)","c":"Z97","v":1.0},{"r":"PE(40:3)","c":"C35","v":1.3},{"r":"PE(40:3)","c":"C88","v":1.1},{"r":"PE(40:3)","c":"C152","v":1.0},{"r":"PE(40:3)","c":"C149","v":1.3},{"r":"PE(40:3)","c":"Z134","v":1.2},{"r":"PE(40:3)","c":"Z115.1","v":1.0},{"r":"PE(40:3)","c":"C47","v":1.3},{"r":"PE(40:3)","c":"C70","v":1.2},{"r":"PE(40:3)","c":"C39","v":1.5},{"r":"PE(40:3)","c":"Z36","v":-2.8},{"r":"PE(40:3)","c":"Z55","v":-4.0},{"r":"PE(40:3)","c":"Z68","v":-2.6},{"r":"PE(40:3)","c":"Z40","v":-3.2},{"r":"PE(40:3)","c":"Z62","v":-2.0},{"r":"PE(40:3)","c":"K125","v":-0.9},{"r":"PE(40:3)","c":"K131","v":-1.2},{"r":"PE(40:3)","c":"K32","v":-1.1},{"r":"PE(40:3)","c":"K70","v":-1.4},{"r":"PE(40:3)","c":"K82","v":-0.9},{"r":"PE(40:3)","c":"K100","v":-1.4},{"r":"PE(40:3)","c":"K101","v":-1.1},{"r":"PE(40:3)","c":"K102","v":-1.2},{"r":"PE(40:3)","c":"K36","v":-0.9},{"r":"PE(40:3)","c":"K127","v":-0.8},{"r":"PE(40:3)","c":"K111","v":-1.2},{"r":"PE(40:3)","c":"K41","v":-1.1},{"r":"PE(40:3)","c":"K134","v":-1.9},{"r":"PE(40:3)","c":"K64","v":-1.8},{"r":"PE(40:3)","c":"K49","v":-1.6},{"r":"PE(40:3)","c":"K48","v":-2.0},{"r":"PE(40:3)","c":"K28","v":-1.7},{"r":"PE(40:3)","c":"K59","v":-1.2},{"r":"PE(40:3)","c":"K115","v":-1.4},{"r":"PE(40:3)","c":"K13","v":-1.2},
{"r":"PE(36:1)","c":"Z126","v":0.9},{"r":"PE(36:1)","c":"Z139","v":1.0},{"r":"PE(36:1)","c":"Z25.1","v":0.8},{"r":"PE(36:1)","c":"Z77","v":1.0},{"r":"PE(36:1)","c":"Z132","v":0.9},{"r":"PE(36:1)","c":"Z97.1","v":1.2},{"r":"PE(36:1)","c":"C167","v":1.3},{"r":"PE(36:1)","c":"Z145","v":0.9},{"r":"PE(36:1)","c":"Z177","v":1.0},{"r":"PE(36:1)","c":"Z115","v":0.8},{"r":"PE(36:1)","c":"Z25","v":1.0},{"r":"PE(36:1)","c":"Z109","v":0.9},{"r":"PE(36:1)","c":"Z119","v":1.0},{"r":"PE(36:1)","c":"Z77.1","v":1.2},{"r":"PE(36:1)","c":"C51","v":1.0},{"r":"PE(36:1)","c":"C163","v":0.9},{"r":"PE(36:1)","c":"C111","v":1.2},{"r":"PE(36:1)","c":"Z112","v":1.0},{"r":"PE(36:1)","c":"C105","v":1.2},{"r":"PE(36:1)","c":"C64","v":1.0},{"r":"PE(36:1)","c":"C33","v":0.9},{"r":"PE(36:1)","c":"C16","v":1.2},{"r":"PE(36:1)","c":"C137","v":1.0},{"r":"PE(36:1)","c":"C114","v":1.3},{"r":"PE(36:1)","c":"C107","v":1.2},{"r":"PE(36:1)","c":"C125","v":1.0},{"r":"PE(36:1)","c":"Z138","v":0.8},{"r":"PE(36:1)","c":"Z126.1","v":0.5},{"r":"PE(36:1)","c":"Z166","v":0.6},{"r":"PE(36:1)","c":"C110","v":1.0},{"r":"PE(36:1)","c":"Z97","v":0.9},{"r":"PE(36:1)","c":"C35","v":1.2},{"r":"PE(36:1)","c":"C88","v":1.0},{"r":"PE(36:1)","c":"C152","v":0.9},{"r":"PE(36:1)","c":"C149","v":1.2},{"r":"PE(36:1)","c":"Z134","v":1.0},{"r":"PE(36:1)","c":"Z115.1","v":0.9},{"r":"PE(36:1)","c":"C47","v":1.2},{"r":"PE(36:1)","c":"C70","v":1.0},{"r":"PE(36:1)","c":"C39","v":1.3},{"r":"PE(36:1)","c":"Z36","v":-2.7},{"r":"PE(36:1)","c":"Z55","v":-3.9},{"r":"PE(36:1)","c":"Z68","v":-2.8},{"r":"PE(36:1)","c":"Z40","v":-3.1},{"r":"PE(36:1)","c":"Z62","v":-2.1},{"r":"PE(36:1)","c":"K125","v":-1.1},{"r":"PE(36:1)","c":"K131","v":-1.4},{"r":"PE(36:1)","c":"K32","v":-0.9},{"r":"PE(36:1)","c":"K70","v":-1.2},{"r":"PE(36:1)","c":"K82","v":-0.8},{"r":"PE(36:1)","c":"K100","v":-1.1},{"r":"PE(36:1)","c":"K101","v":-0.9},{"r":"PE(36:1)","c":"K102","v":-1.2},{"r":"PE(36:1)","c":"K36","v":-0.8},{"r":"PE(36:1)","c":"K127","v":-0.6},{"r":"PE(36:1)","c":"K111","v":-1.1},{"r":"PE(36:1)","c":"K41","v":-0.9},{"r":"PE(36:1)","c":"K134","v":-1.6},{"r":"PE(36:1)","c":"K64","v":-1.7},{"r":"PE(36:1)","c":"K49","v":-1.4},{"r":"PE(36:1)","c":"K48","v":-1.7},{"r":"PE(36:1)","c":"K28","v":-1.5},{"r":"PE(36:1)","c":"K59","v":-1.1},{"r":"PE(36:1)","c":"K115","v":-1.2},{"r":"PE(36:1)","c":"K13","v":-0.9},
{"r":"PI(36:2)","c":"Z126","v":0.6},{"r":"PI(36:2)","c":"Z139","v":0.8},{"r":"PI(36:2)","c":"Z25.1","v":0.5},{"r":"PI(36:2)","c":"Z77","v":0.8},{"r":"PI(36:2)","c":"Z132","v":0.6},{"r":"PI(36:2)","c":"Z97.1","v":0.9},{"r":"PI(36:2)","c":"C167","v":1.0},{"r":"PI(36:2)","c":"Z145","v":0.5},{"r":"PI(36:2)","c":"Z177","v":0.8},{"r":"PI(36:2)","c":"Z115","v":0.5},{"r":"PI(36:2)","c":"Z25","v":0.8},{"r":"PI(36:2)","c":"Z109","v":0.6},{"r":"PI(36:2)","c":"Z119","v":0.8},{"r":"PI(36:2)","c":"Z77.1","v":0.9},{"r":"PI(36:2)","c":"C51","v":0.8},{"r":"PI(36:2)","c":"C163","v":0.6},{"r":"PI(36:2)","c":"C111","v":0.9},{"r":"PI(36:2)","c":"Z112","v":0.8},{"r":"PI(36:2)","c":"C105","v":0.9},{"r":"PI(36:2)","c":"C64","v":0.8},{"r":"PI(36:2)","c":"C33","v":0.6},{"r":"PI(36:2)","c":"C16","v":0.9},{"r":"PI(36:2)","c":"C137","v":0.8},{"r":"PI(36:2)","c":"C114","v":1.0},{"r":"PI(36:2)","c":"C107","v":0.9},{"r":"PI(36:2)","c":"C125","v":0.8},{"r":"PI(36:2)","c":"Z138","v":0.5},{"r":"PI(36:2)","c":"Z126.1","v":0.2},{"r":"PI(36:2)","c":"Z166","v":0.3},{"r":"PI(36:2)","c":"C110","v":0.8},{"r":"PI(36:2)","c":"Z97","v":0.6},{"r":"PI(36:2)","c":"C35","v":0.9},{"r":"PI(36:2)","c":"C88","v":0.8},{"r":"PI(36:2)","c":"C152","v":0.6},{"r":"PI(36:2)","c":"C149","v":0.9},{"r":"PI(36:2)","c":"Z134","v":0.8},{"r":"PI(36:2)","c":"Z115.1","v":0.6},{"r":"PI(36:2)","c":"C47","v":0.9},{"r":"PI(36:2)","c":"C70","v":0.8},{"r":"PI(36:2)","c":"C39","v":1.0},{"r":"PI(36:2)","c":"Z36","v":-2.4},{"r":"PI(36:2)","c":"Z55","v":-3.2},{"r":"PI(36:2)","c":"Z68","v":0.2},{"r":"PI(36:2)","c":"Z40","v":-5.1},{"r":"PI(36:2)","c":"Z62","v":-2.0},{"r":"PI(36:2)","c":"K125","v":-0.3},{"r":"PI(36:2)","c":"K131","v":-0.6},{"r":"PI(36:2)","c":"K32","v":-0.5},{"r":"PI(36:2)","c":"K70","v":-0.8},{"r":"PI(36:2)","c":"K82","v":-0.3},{"r":"PI(36:2)","c":"K100","v":-0.6},{"r":"PI(36:2)","c":"K101","v":-0.5},{"r":"PI(36:2)","c":"K102","v":-0.8},{"r":"PI(36:2)","c":"K36","v":-0.3},{"r":"PI(36:2)","c":"K127","v":-0.2},{"r":"PI(36:2)","c":"K111","v":-0.6},{"r":"PI(36:2)","c":"K41","v":-0.5},{"r":"PI(36:2)","c":"K134","v":-0.8},{"r":"PI(36:2)","c":"K64","v":-0.6},{"r":"PI(36:2)","c":"K49","v":-0.5},{"r":"PI(36:2)","c":"K48","v":-0.9},{"r":"PI(36:2)","c":"K28","v":-0.6},{"r":"PI(36:2)","c":"K59","v":-0.5},{"r":"PI(36:2)","c":"K115","v":-0.6},{"r":"PI(36:2)","c":"K13","v":-0.5},
{"r":"PE(34:3)","c":"Z126","v":1.2},{"r":"PE(34:3)","c":"Z139","v":1.3},{"r":"PE(34:3)","c":"Z25.1","v":1.0},{"r":"PE(34:3)","c":"Z77","v":1.3},{"r":"PE(34:3)","c":"Z132","v":1.2},{"r":"PE(34:3)","c":"Z97.1","v":1.5},{"r":"PE(34:3)","c":"C167","v":1.6},{"r":"PE(34:3)","c":"Z145","v":1.2},{"r":"PE(34:3)","c":"Z177","v":1.3},{"r":"PE(34:3)","c":"Z115","v":1.0},{"r":"PE(34:3)","c":"Z25","v":1.3},{"r":"PE(34:3)","c":"Z109","v":1.2},{"r":"PE(34:3)","c":"Z119","v":1.3},{"r":"PE(34:3)","c":"Z77.1","v":1.5},{"r":"PE(34:3)","c":"C51","v":1.3},{"r":"PE(34:3)","c":"C163","v":1.2},{"r":"PE(34:3)","c":"C111","v":1.5},{"r":"PE(34:3)","c":"Z112","v":1.3},{"r":"PE(34:3)","c":"C105","v":1.5},{"r":"PE(34:3)","c":"C64","v":1.3},{"r":"PE(34:3)","c":"C33","v":1.2},{"r":"PE(34:3)","c":"C16","v":1.5},{"r":"PE(34:3)","c":"C137","v":1.3},{"r":"PE(34:3)","c":"C114","v":1.6},{"r":"PE(34:3)","c":"C107","v":1.5},{"r":"PE(34:3)","c":"C125","v":1.3},{"r":"PE(34:3)","c":"Z138","v":1.0},{"r":"PE(34:3)","c":"Z126.1","v":0.8},{"r":"PE(34:3)","c":"Z166","v":0.9},{"r":"PE(34:3)","c":"C110","v":1.3},{"r":"PE(34:3)","c":"Z97","v":1.2},{"r":"PE(34:3)","c":"C35","v":1.5},{"r":"PE(34:3)","c":"C88","v":1.3},{"r":"PE(34:3)","c":"C152","v":1.2},{"r":"PE(34:3)","c":"C149","v":1.5},{"r":"PE(34:3)","c":"Z134","v":1.3},{"r":"PE(34:3)","c":"Z115.1","v":1.2},{"r":"PE(34:3)","c":"C47","v":1.5},{"r":"PE(34:3)","c":"C70","v":1.3},{"r":"PE(34:3)","c":"C39","v":1.6},{"r":"PE(34:3)","c":"Z36","v":-2.9},{"r":"PE(34:3)","c":"Z55","v":-3.8},{"r":"PE(34:3)","c":"Z68","v":-3.1},{"r":"PE(34:3)","c":"Z40","v":-3.5},{"r":"PE(34:3)","c":"Z62","v":-2.4},{"r":"PE(34:3)","c":"K125","v":-0.6},{"r":"PE(34:3)","c":"K131","v":-0.9},{"r":"PE(34:3)","c":"K32","v":-0.8},{"r":"PE(34:3)","c":"K70","v":-1.1},{"r":"PE(34:3)","c":"K82","v":-0.6},{"r":"PE(34:3)","c":"K100","v":-0.9},{"r":"PE(34:3)","c":"K101","v":-0.8},{"r":"PE(34:3)","c":"K102","v":-1.1},{"r":"PE(34:3)","c":"K36","v":-0.6},{"r":"PE(34:3)","c":"K127","v":-0.5},{"r":"PE(34:3)","c":"K111","v":-0.9},{"r":"PE(34:3)","c":"K41","v":-0.8},{"r":"PE(34:3)","c":"K134","v":-1.1},{"r":"PE(34:3)","c":"K64","v":-0.9},{"r":"PE(34:3)","c":"K49","v":-0.8},{"r":"PE(34:3)","c":"K48","v":-1.2},{"r":"PE(34:3)","c":"K28","v":-0.9},{"r":"PE(34:3)","c":"K59","v":-0.8},{"r":"PE(34:3)","c":"K115","v":-0.9},{"r":"PE(34:3)","c":"K13","v":-0.8},
{"r":"PE(36:3)","c":"Z126","v":1.3},{"r":"PE(36:3)","c":"Z139","v":1.2},{"r":"PE(36:3)","c":"Z25.1","v":1.0},{"r":"PE(36:3)","c":"Z77","v":1.5},{"r":"PE(36:3)","c":"Z132","v":1.2},{"r":"PE(36:3)","c":"Z97.1","v":1.3},{"r":"PE(36:3)","c":"C167","v":1.7},{"r":"PE(36:3)","c":"Z145","v":1.2},{"r":"PE(36:3)","c":"Z177","v":1.3},{"r":"PE(36:3)","c":"Z115","v":1.2},{"r":"PE(36:3)","c":"Z25","v":1.5},{"r":"PE(36:3)","c":"Z109","v":1.2},{"r":"PE(36:3)","c":"Z119","v":1.3},{"r":"PE(36:3)","c":"Z77.1","v":1.5},{"r":"PE(36:3)","c":"C51","v":1.5},{"r":"PE(36:3)","c":"C163","v":1.2},{"r":"PE(36:3)","c":"C111","v":1.6},{"r":"PE(36:3)","c":"Z112","v":1.3},{"r":"PE(36:3)","c":"C105","v":1.5},{"r":"PE(36:3)","c":"C64","v":1.5},{"r":"PE(36:3)","c":"C33","v":1.2},{"r":"PE(36:3)","c":"C16","v":1.6},{"r":"PE(36:3)","c":"C137","v":1.3},{"r":"PE(36:3)","c":"C114","v":1.7},{"r":"PE(36:3)","c":"C107","v":1.5},{"r":"PE(36:3)","c":"C125","v":1.3},{"r":"PE(36:3)","c":"Z138","v":1.0},{"r":"PE(36:3)","c":"Z126.1","v":0.9},{"r":"PE(36:3)","c":"Z166","v":1.0},{"r":"PE(36:3)","c":"C110","v":1.3},{"r":"PE(36:3)","c":"Z97","v":1.2},{"r":"PE(36:3)","c":"C35","v":1.5},{"r":"PE(36:3)","c":"C88","v":1.5},{"r":"PE(36:3)","c":"C152","v":1.2},{"r":"PE(36:3)","c":"C149","v":1.5},{"r":"PE(36:3)","c":"Z134","v":1.3},{"r":"PE(36:3)","c":"Z115.1","v":1.2},{"r":"PE(36:3)","c":"C47","v":1.6},{"r":"PE(36:3)","c":"C70","v":1.3},{"r":"PE(36:3)","c":"C39","v":1.6},{"r":"PE(36:3)","c":"Z36","v":-3.0},{"r":"PE(36:3)","c":"Z55","v":-3.9},{"r":"PE(36:3)","c":"Z68","v":-3.2},{"r":"PE(36:3)","c":"Z40","v":-3.6},{"r":"PE(36:3)","c":"Z62","v":-2.5},{"r":"PE(36:3)","c":"K125","v":-0.8},{"r":"PE(36:3)","c":"K131","v":-1.1},{"r":"PE(36:3)","c":"K32","v":-0.9},{"r":"PE(36:3)","c":"K70","v":-1.2},{"r":"PE(36:3)","c":"K82","v":-0.8},{"r":"PE(36:3)","c":"K100","v":-1.1},{"r":"PE(36:3)","c":"K101","v":-0.9},{"r":"PE(36:3)","c":"K102","v":-1.2},{"r":"PE(36:3)","c":"K36","v":-0.8},{"r":"PE(36:3)","c":"K127","v":-0.6},{"r":"PE(36:3)","c":"K111","v":-1.1},{"r":"PE(36:3)","c":"K41","v":-0.9},{"r":"PE(36:3)","c":"K134","v":-1.2},{"r":"PE(36:3)","c":"K64","v":-1.1},{"r":"PE(36:3)","c":"K49","v":-0.9},{"r":"PE(36:3)","c":"K48","v":-1.4},{"r":"PE(36:3)","c":"K28","v":-1.1},{"r":"PE(36:3)","c":"K59","v":-0.9},{"r":"PE(36:3)","c":"K115","v":-1.1},{"r":"PE(36:3)","c":"K13","v":-0.9},
{"r":"PE(38:1)","c":"Z126","v":1.0},{"r":"PE(38:1)","c":"Z139","v":1.2},{"r":"PE(38:1)","c":"Z25.1","v":0.9},{"r":"PE(38:1)","c":"Z77","v":1.2},{"r":"PE(38:1)","c":"Z132","v":1.1},{"r":"PE(38:1)","c":"Z97.1","v":1.3},{"r":"PE(38:1)","c":"C167","v":1.5},{"r":"PE(38:1)","c":"Z145","v":1.0},{"r":"PE(38:1)","c":"Z177","v":1.2},{"r":"PE(38:1)","c":"Z115","v":0.9},{"r":"PE(38:1)","c":"Z25","v":1.2},{"r":"PE(38:1)","c":"Z109","v":1.0},{"r":"PE(38:1)","c":"Z119","v":1.2},{"r":"PE(38:1)","c":"Z77.1","v":1.2},{"r":"PE(38:1)","c":"C51","v":1.2},{"r":"PE(38:1)","c":"C163","v":1.0},{"r":"PE(38:1)","c":"C111","v":1.3},{"r":"PE(38:1)","c":"Z112","v":1.2},{"r":"PE(38:1)","c":"C105","v":1.3},{"r":"PE(38:1)","c":"C64","v":1.2},{"r":"PE(38:1)","c":"C33","v":1.0},{"r":"PE(38:1)","c":"C16","v":1.3},{"r":"PE(38:1)","c":"C137","v":1.2},{"r":"PE(38:1)","c":"C114","v":1.5},{"r":"PE(38:1)","c":"C107","v":1.3},{"r":"PE(38:1)","c":"C125","v":1.1},{"r":"PE(38:1)","c":"Z138","v":0.9},{"r":"PE(38:1)","c":"Z126.1","v":0.6},{"r":"PE(38:1)","c":"Z166","v":0.8},{"r":"PE(38:1)","c":"C110","v":1.2},{"r":"PE(38:1)","c":"Z97","v":1.0},{"r":"PE(38:1)","c":"C35","v":1.3},{"r":"PE(38:1)","c":"C88","v":1.2},{"r":"PE(38:1)","c":"C152","v":1.0},{"r":"PE(38:1)","c":"C149","v":1.3},{"r":"PE(38:1)","c":"Z134","v":1.2},{"r":"PE(38:1)","c":"Z115.1","v":1.1},{"r":"PE(38:1)","c":"C47","v":1.3},{"r":"PE(38:1)","c":"C70","v":1.2},{"r":"PE(38:1)","c":"C39","v":1.5},{"r":"PE(38:1)","c":"Z36","v":-2.8},{"r":"PE(38:1)","c":"Z55","v":-3.7},{"r":"PE(38:1)","c":"Z68","v":-3.0},{"r":"PE(38:1)","c":"Z40","v":-3.4},{"r":"PE(38:1)","c":"Z62","v":-2.3},{"r":"PE(38:1)","c":"K125","v":-0.5},{"r":"PE(38:1)","c":"K131","v":-0.8},{"r":"PE(38:1)","c":"K32","v":-0.6},{"r":"PE(38:1)","c":"K70","v":-0.9},{"r":"PE(38:1)","c":"K82","v":-1.7},{"r":"PE(38:1)","c":"K100","v":-0.8},{"r":"PE(38:1)","c":"K101","v":-0.6},{"r":"PE(38:1)","c":"K102","v":-0.9},{"r":"PE(38:1)","c":"K36","v":-0.5},{"r":"PE(38:1)","c":"K127","v":-0.3},{"r":"PE(38:1)","c":"K111","v":-0.8},{"r":"PE(38:1)","c":"K41","v":-0.6},{"r":"PE(38:1)","c":"K134","v":-0.9},{"r":"PE(38:1)","c":"K64","v":-0.8},{"r":"PE(38:1)","c":"K49","v":-0.6},{"r":"PE(38:1)","c":"K48","v":-1.1},{"r":"PE(38:1)","c":"K28","v":-0.8},{"r":"PE(38:1)","c":"K59","v":-0.6},{"r":"PE(38:1)","c":"K115","v":-0.8},{"r":"PE(38:1)","c":"K13","v":-0.6},
{"r":"PE(40:4)","c":"Z126","v":1.2},{"r":"PE(40:4)","c":"Z139","v":1.2},{"r":"PE(40:4)","c":"Z25.1","v":1.0},{"r":"PE(40:4)","c":"Z77","v":1.3},{"r":"PE(40:4)","c":"Z132","v":1.2},{"r":"PE(40:4)","c":"Z97.1","v":1.5},{"r":"PE(40:4)","c":"C167","v":1.6},{"r":"PE(40:4)","c":"Z145","v":1.2},{"r":"PE(40:4)","c":"Z177","v":1.3},{"r":"PE(40:4)","c":"Z115","v":1.0},{"r":"PE(40:4)","c":"Z25","v":1.4},{"r":"PE(40:4)","c":"Z109","v":1.2},{"r":"PE(40:4)","c":"Z119","v":1.3},{"r":"PE(40:4)","c":"Z77.1","v":1.5},{"r":"PE(40:4)","c":"C51","v":1.3},{"r":"PE(40:4)","c":"C163","v":1.2},{"r":"PE(40:4)","c":"C111","v":1.5},{"r":"PE(40:4)","c":"Z112","v":1.3},{"r":"PE(40:4)","c":"C105","v":1.5},{"r":"PE(40:4)","c":"C64","v":1.3},{"r":"PE(40:4)","c":"C33","v":1.2},{"r":"PE(40:4)","c":"C16","v":1.4},{"r":"PE(40:4)","c":"C137","v":1.3},{"r":"PE(40:4)","c":"C114","v":1.6},{"r":"PE(40:4)","c":"C107","v":1.5},{"r":"PE(40:4)","c":"C125","v":1.3},{"r":"PE(40:4)","c":"Z138","v":1.0},{"r":"PE(40:4)","c":"Z126.1","v":0.8},{"r":"PE(40:4)","c":"Z166","v":0.9},{"r":"PE(40:4)","c":"C110","v":1.3},{"r":"PE(40:4)","c":"Z97","v":1.3},{"r":"PE(40:4)","c":"C35","v":1.5},{"r":"PE(40:4)","c":"C88","v":1.3},{"r":"PE(40:4)","c":"C152","v":1.2},{"r":"PE(40:4)","c":"C149","v":1.5},{"r":"PE(40:4)","c":"Z134","v":1.3},{"r":"PE(40:4)","c":"Z115.1","v":1.2},{"r":"PE(40:4)","c":"C47","v":1.5},{"r":"PE(40:4)","c":"C70","v":1.3},{"r":"PE(40:4)","c":"C39","v":1.6},{"r":"PE(40:4)","c":"Z36","v":-3.1},{"r":"PE(40:4)","c":"Z55","v":-4.0},{"r":"PE(40:4)","c":"Z68","v":-3.1},{"r":"PE(40:4)","c":"Z40","v":-3.6},{"r":"PE(40:4)","c":"Z62","v":-2.4},{"r":"PE(40:4)","c":"K125","v":-0.6},{"r":"PE(40:4)","c":"K131","v":-0.9},{"r":"PE(40:4)","c":"K32","v":-0.8},{"r":"PE(40:4)","c":"K70","v":-1.1},{"r":"PE(40:4)","c":"K82","v":-0.8},{"r":"PE(40:4)","c":"K100","v":-0.9},{"r":"PE(40:4)","c":"K101","v":-0.8},{"r":"PE(40:4)","c":"K102","v":-1.1},{"r":"PE(40:4)","c":"K36","v":-0.6},{"r":"PE(40:4)","c":"K127","v":-0.5},{"r":"PE(40:4)","c":"K111","v":-0.9},{"r":"PE(40:4)","c":"K41","v":-0.8},{"r":"PE(40:4)","c":"K134","v":-1.2},{"r":"PE(40:4)","c":"K64","v":-1.1},{"r":"PE(40:4)","c":"K49","v":-0.9},{"r":"PE(40:4)","c":"K48","v":-1.2},{"r":"PE(40:4)","c":"K28","v":-0.9},{"r":"PE(40:4)","c":"K59","v":-0.8},{"r":"PE(40:4)","c":"K115","v":-0.9},{"r":"PE(40:4)","c":"K13","v":-0.8},
{"r":"PE(34:2)","c":"Z126","v":1.0},{"r":"PE(34:2)","c":"Z139","v":1.2},{"r":"PE(34:2)","c":"Z25.1","v":0.9},{"r":"PE(34:2)","c":"Z77","v":1.1},{"r":"PE(34:2)","c":"Z132","v":1.0},{"r":"PE(34:2)","c":"Z97.1","v":1.3},{"r":"PE(34:2)","c":"C167","v":1.5},{"r":"PE(34:2)","c":"Z145","v":1.0},{"r":"PE(34:2)","c":"Z177","v":1.1},{"r":"PE(34:2)","c":"Z115","v":0.9},{"r":"PE(34:2)","c":"Z25","v":1.2},{"r":"PE(34:2)","c":"Z109","v":1.0},{"r":"PE(34:2)","c":"Z119","v":1.2},{"r":"PE(34:2)","c":"Z77.1","v":1.3},{"r":"PE(34:2)","c":"C51","v":1.2},{"r":"PE(34:2)","c":"C163","v":1.0},{"r":"PE(34:2)","c":"C111","v":1.3},{"r":"PE(34:2)","c":"Z112","v":1.2},{"r":"PE(34:2)","c":"C105","v":1.2},{"r":"PE(34:2)","c":"C64","v":1.2},{"r":"PE(34:2)","c":"C33","v":1.0},{"r":"PE(34:2)","c":"C16","v":1.3},{"r":"PE(34:2)","c":"C137","v":1.2},{"r":"PE(34:2)","c":"C114","v":1.5},{"r":"PE(34:2)","c":"C107","v":1.3},{"r":"PE(34:2)","c":"C125","v":1.2},{"r":"PE(34:2)","c":"Z138","v":0.9},{"r":"PE(34:2)","c":"Z126.1","v":0.6},{"r":"PE(34:2)","c":"Z166","v":0.8},{"r":"PE(34:2)","c":"C110","v":1.2},{"r":"PE(34:2)","c":"Z97","v":1.0},{"r":"PE(34:2)","c":"C35","v":1.3},{"r":"PE(34:2)","c":"C88","v":1.2},{"r":"PE(34:2)","c":"C152","v":1.0},{"r":"PE(34:2)","c":"C149","v":1.2},{"r":"PE(34:2)","c":"Z134","v":1.2},{"r":"PE(34:2)","c":"Z115.1","v":1.0},{"r":"PE(34:2)","c":"C47","v":1.3},{"r":"PE(34:2)","c":"C70","v":1.2},{"r":"PE(34:2)","c":"C39","v":1.5},{"r":"PE(34:2)","c":"Z36","v":-2.9},{"r":"PE(34:2)","c":"Z55","v":-3.8},{"r":"PE(34:2)","c":"Z68","v":-3.0},{"r":"PE(34:2)","c":"Z40","v":-3.4},{"r":"PE(34:2)","c":"Z62","v":-2.3},{"r":"PE(34:2)","c":"K125","v":-0.5},{"r":"PE(34:2)","c":"K131","v":-0.8},{"r":"PE(34:2)","c":"K32","v":-0.6},{"r":"PE(34:2)","c":"K70","v":-0.9},{"r":"PE(34:2)","c":"K82","v":-0.5},{"r":"PE(34:2)","c":"K100","v":-0.8},{"r":"PE(34:2)","c":"K101","v":-0.6},{"r":"PE(34:2)","c":"K102","v":-0.9},{"r":"PE(34:2)","c":"K36","v":-0.5},{"r":"PE(34:2)","c":"K127","v":-0.3},{"r":"PE(34:2)","c":"K111","v":-0.8},{"r":"PE(34:2)","c":"K41","v":-0.6},{"r":"PE(34:2)","c":"K134","v":-0.9},{"r":"PE(34:2)","c":"K64","v":-0.8},{"r":"PE(34:2)","c":"K49","v":-0.6},{"r":"PE(34:2)","c":"K48","v":-1.1},{"r":"PE(34:2)","c":"K28","v":-0.8},{"r":"PE(34:2)","c":"K59","v":-0.6},{"r":"PE(34:2)","c":"K115","v":-0.8},{"r":"PE(34:2)","c":"K13","v":-0.6},
{"r":"PE(38:4)","c":"Z126","v":1.2},{"r":"PE(38:4)","c":"Z139","v":1.2},{"r":"PE(38:4)","c":"Z25.1","v":1.0},{"r":"PE(38:4)","c":"Z77","v":1.3},{"r":"PE(38:4)","c":"Z132","v":1.2},{"r":"PE(38:4)","c":"Z97.1","v":1.3},{"r":"PE(38:4)","c":"C167","v":1.6},{"r":"PE(38:4)","c":"Z145","v":1.0},{"r":"PE(38:4)","c":"Z177","v":1.3},{"r":"PE(38:4)","c":"Z115","v":1.0},{"r":"PE(38:4)","c":"Z25","v":1.3},{"r":"PE(38:4)","c":"Z109","v":1.2},{"r":"PE(38:4)","c":"Z119","v":1.2},{"r":"PE(38:4)","c":"Z77.1","v":1.5},{"r":"PE(38:4)","c":"C51","v":1.3},{"r":"PE(38:4)","c":"C163","v":1.2},{"r":"PE(38:4)","c":"C111","v":1.5},{"r":"PE(38:4)","c":"Z112","v":1.2},{"r":"PE(38:4)","c":"C105","v":1.5},{"r":"PE(38:4)","c":"C64","v":1.3},{"r":"PE(38:4)","c":"C33","v":1.2},{"r":"PE(38:4)","c":"C16","v":1.5},{"r":"PE(38:4)","c":"C137","v":1.3},{"r":"PE(38:4)","c":"C114","v":1.6},{"r":"PE(38:4)","c":"C107","v":1.3},{"r":"PE(38:4)","c":"C125","v":1.3},{"r":"PE(38:4)","c":"Z138","v":0.9},{"r":"PE(38:4)","c":"Z126.1","v":0.8},{"r":"PE(38:4)","c":"Z166","v":0.9},{"r":"PE(38:4)","c":"C110","v":1.3},{"r":"PE(38:4)","c":"Z97","v":1.2},{"r":"PE(38:4)","c":"C35","v":1.5},{"r":"PE(38:4)","c":"C88","v":1.3},{"r":"PE(38:4)","c":"C152","v":1.2},{"r":"PE(38:4)","c":"C149","v":1.3},{"r":"PE(38:4)","c":"Z134","v":1.3},{"r":"PE(38:4)","c":"Z115.1","v":1.2},{"r":"PE(38:4)","c":"C47","v":1.5},{"r":"PE(38:4)","c":"C70","v":1.3},{"r":"PE(38:4)","c":"C39","v":1.6},{"r":"PE(38:4)","c":"Z36","v":-3.0},{"r":"PE(38:4)","c":"Z55","v":-3.9},{"r":"PE(38:4)","c":"Z68","v":-3.1},{"r":"PE(38:4)","c":"Z40","v":-3.5},{"r":"PE(38:4)","c":"Z62","v":-2.4},{"r":"PE(38:4)","c":"K125","v":-0.8},{"r":"PE(38:4)","c":"K131","v":-0.9},{"r":"PE(38:4)","c":"K32","v":-0.8},{"r":"PE(38:4)","c":"K70","v":-1.1},{"r":"PE(38:4)","c":"K82","v":-0.6},{"r":"PE(38:4)","c":"K100","v":-0.9},{"r":"PE(38:4)","c":"K101","v":-0.8},{"r":"PE(38:4)","c":"K102","v":-1.1},{"r":"PE(38:4)","c":"K36","v":-0.6},{"r":"PE(38:4)","c":"K127","v":-0.5},{"r":"PE(38:4)","c":"K111","v":-0.9},{"r":"PE(38:4)","c":"K41","v":-0.8},{"r":"PE(38:4)","c":"K134","v":-1.1},{"r":"PE(38:4)","c":"K64","v":-0.9},{"r":"PE(38:4)","c":"K49","v":-0.8},{"r":"PE(38:4)","c":"K48","v":-1.2},{"r":"PE(38:4)","c":"K28","v":-0.9},{"r":"PE(38:4)","c":"K59","v":-0.8},{"r":"PE(38:4)","c":"K115","v":-0.9},{"r":"PE(38:4)","c":"K13","v":-0.8},
{"r":"PE(38:7)","c":"Z126","v":0.9},{"r":"PE(38:7)","c":"Z139","v":1.0},{"r":"PE(38:7)","c":"Z25.1","v":0.8},{"r":"PE(38:7)","c":"Z77","v":1.0},{"r":"PE(38:7)","c":"Z132","v":0.9},{"r":"PE(38:7)","c":"Z97.1","v":1.0},{"r":"PE(38:7)","c":"C167","v":1.3},{"r":"PE(38:7)","c":"Z145","v":0.9},{"r":"PE(38:7)","c":"Z177","v":1.0},{"r":"PE(38:7)","c":"Z115","v":0.8},{"r":"PE(38:7)","c":"Z25","v":1.0},{"r":"PE(38:7)","c":"Z109","v":0.9},{"r":"PE(38:7)","c":"Z119","v":1.0},{"r":"PE(38:7)","c":"Z77.1","v":1.2},{"r":"PE(38:7)","c":"C51","v":1.0},{"r":"PE(38:7)","c":"C163","v":1.0},{"r":"PE(38:7)","c":"C111","v":1.2},{"r":"PE(38:7)","c":"Z112","v":1.0},{"r":"PE(38:7)","c":"C105","v":1.2},{"r":"PE(38:7)","c":"C64","v":1.0},{"r":"PE(38:7)","c":"C33","v":0.9},{"r":"PE(38:7)","c":"C16","v":1.2},{"r":"PE(38:7)","c":"C137","v":1.0},{"r":"PE(38:7)","c":"C114","v":1.3},{"r":"PE(38:7)","c":"C107","v":1.2},{"r":"PE(38:7)","c":"C125","v":1.0},{"r":"PE(38:7)","c":"Z138","v":0.8},{"r":"PE(38:7)","c":"Z126.1","v":0.6},{"r":"PE(38:7)","c":"Z166","v":0.6},{"r":"PE(38:7)","c":"C110","v":1.0},{"r":"PE(38:7)","c":"Z97","v":0.9},{"r":"PE(38:7)","c":"C35","v":1.2},{"r":"PE(38:7)","c":"C88","v":1.0},{"r":"PE(38:7)","c":"C152","v":0.9},{"r":"PE(38:7)","c":"C149","v":1.2},{"r":"PE(38:7)","c":"Z134","v":1.0},{"r":"PE(38:7)","c":"Z115.1","v":0.9},{"r":"PE(38:7)","c":"C47","v":1.2},{"r":"PE(38:7)","c":"C70","v":1.1},{"r":"PE(38:7)","c":"C39","v":1.3},{"r":"PE(38:7)","c":"Z36","v":-2.6},{"r":"PE(38:7)","c":"Z55","v":-3.6},{"r":"PE(38:7)","c":"Z68","v":-2.9},{"r":"PE(38:7)","c":"Z40","v":-3.2},{"r":"PE(38:7)","c":"Z62","v":-2.2},{"r":"PE(38:7)","c":"K125","v":-0.5},{"r":"PE(38:7)","c":"K131","v":-0.8},{"r":"PE(38:7)","c":"K32","v":-0.3},{"r":"PE(38:7)","c":"K70","v":-0.9},{"r":"PE(38:7)","c":"K82","v":-0.3},{"r":"PE(38:7)","c":"K100","v":-0.9},{"r":"PE(38:7)","c":"K101","v":0.2},{"r":"PE(38:7)","c":"K102","v":-0.5},{"r":"PE(38:7)","c":"K36","v":-0.6},{"r":"PE(38:7)","c":"K127","v":-0.2},{"r":"PE(38:7)","c":"K111","v":-0.8},{"r":"PE(38:7)","c":"K41","v":-0.9},{"r":"PE(38:7)","c":"K134","v":-0.5},{"r":"PE(38:7)","c":"K64","v":-0.8},{"r":"PE(38:7)","c":"K49","v":-0.6},{"r":"PE(38:7)","c":"K48","v":-0.9},{"r":"PE(38:7)","c":"K28","v":-0.6},{"r":"PE(38:7)","c":"K59","v":-0.5},{"r":"PE(38:7)","c":"K115","v":-0.8},{"r":"PE(38:7)","c":"K13","v":-0.6},
{"r":"PE(40:1)","c":"Z126","v":1.1},{"r":"PE(40:1)","c":"Z139","v":1.2},{"r":"PE(40:1)","c":"Z25.1","v":0.9},{"r":"PE(40:1)","c":"Z77","v":1.2},{"r":"PE(40:1)","c":"Z132","v":1.0},{"r":"PE(40:1)","c":"Z97.1","v":1.3},{"r":"PE(40:1)","c":"C167","v":1.5},{"r":"PE(40:1)","c":"Z145","v":1.0},{"r":"PE(40:1)","c":"Z177","v":1.2},{"r":"PE(40:1)","c":"Z115","v":0.9},{"r":"PE(40:1)","c":"Z25","v":1.2},{"r":"PE(40:1)","c":"Z109","v":1.0},{"r":"PE(40:1)","c":"Z119","v":1.1},{"r":"PE(40:1)","c":"Z77.1","v":1.3},{"r":"PE(40:1)","c":"C51","v":1.2},{"r":"PE(40:1)","c":"C163","v":1.0},{"r":"PE(40:1)","c":"C111","v":1.3},{"r":"PE(40:1)","c":"Z112","v":1.2},{"r":"PE(40:1)","c":"C105","v":1.3},{"r":"PE(40:1)","c":"C64","v":1.2},{"r":"PE(40:1)","c":"C33","v":1.0},{"r":"PE(40:1)","c":"C16","v":1.3},{"r":"PE(40:1)","c":"C137","v":1.2},{"r":"PE(40:1)","c":"C114","v":1.4},{"r":"PE(40:1)","c":"C107","v":1.3},{"r":"PE(40:1)","c":"C125","v":1.2},{"r":"PE(40:1)","c":"Z138","v":0.9},{"r":"PE(40:1)","c":"Z126.1","v":0.6},{"r":"PE(40:1)","c":"Z166","v":0.8},{"r":"PE(40:1)","c":"C110","v":1.2},{"r":"PE(40:1)","c":"Z97","v":1.0},{"r":"PE(40:1)","c":"C35","v":1.3},{"r":"PE(40:1)","c":"C88","v":1.2},{"r":"PE(40:1)","c":"C152","v":1.0},{"r":"PE(40:1)","c":"C149","v":1.3},{"r":"PE(40:1)","c":"Z134","v":1.2},{"r":"PE(40:1)","c":"Z115.1","v":1.0},{"r":"PE(40:1)","c":"C47","v":1.3},{"r":"PE(40:1)","c":"C70","v":1.2},{"r":"PE(40:1)","c":"C39","v":1.4},{"r":"PE(40:1)","c":"Z36","v":-4.8},{"r":"PE(40:1)","c":"Z55","v":-3.8},{"r":"PE(40:1)","c":"Z68","v":-3.2},{"r":"PE(40:1)","c":"Z40","v":-3.7},{"r":"PE(40:1)","c":"Z62","v":-2.5},{"r":"PE(40:1)","c":"K125","v":-0.5},{"r":"PE(40:1)","c":"K131","v":-0.6},{"r":"PE(40:1)","c":"K32","v":-0.5},{"r":"PE(40:1)","c":"K70","v":-0.8},{"r":"PE(40:1)","c":"K82","v":-0.3},{"r":"PE(40:1)","c":"K100","v":-0.6},{"r":"PE(40:1)","c":"K101","v":-0.2},{"r":"PE(40:1)","c":"K102","v":-0.5},{"r":"PE(40:1)","c":"K36","v":-0.6},{"r":"PE(40:1)","c":"K127","v":-0.3},{"r":"PE(40:1)","c":"K111","v":-0.6},{"r":"PE(40:1)","c":"K41","v":-0.8},{"r":"PE(40:1)","c":"K134","v":-0.5},{"r":"PE(40:1)","c":"K64","v":-0.6},{"r":"PE(40:1)","c":"K49","v":-0.5},{"r":"PE(40:1)","c":"K48","v":-0.8},{"r":"PE(40:1)","c":"K28","v":-0.6},{"r":"PE(40:1)","c":"K59","v":-0.5},{"r":"PE(40:1)","c":"K115","v":-0.6},{"r":"PE(40:1)","c":"K13","v":-0.5}
]},
"mark":{"type":"rect","stroke":"#9e9e9e","strokeWidth":1},
"encoding":{
"x":{"field":"c","type":"nominal","scale":{"domain":["Z126","Z139","Z25.1","Z77","Z132","Z97.1","C167","Z145","Z177","Z115","Z25","Z109","Z119","Z77.1","C51","C163","C111","Z112","C105","C64","C33","C16","C137","C114","C107","C125","Z138","Z126.1","Z166","C110","Z97","C35","C88","C152","C149","Z134","Z115.1","C47","C70","C39","Z36","Z55","Z68","Z40","Z62","K125","K131","K32","K70","K82","K100","K101","K102","K36","K127","K111","K41","K134","K64","K49","K48","K28","K59","K115","K13"],"paddingInner":0,"paddingOuter":0},"axis":{"orient":"bottom","title":null,"labelAngle":90,"labelAlign":"left","labelBaseline":"middle","ticks":false,"domain":false,"labelFontSize":10,"labelPadding":3}},
"y":{"field":"r","type":"nominal","scale":{"domain":["PS(36:2)","PE(40:6)","PC(36:2)","PE(40:5)","PS(38:2)","PE(36:4)","PE(38:3)","PE(38:2)","PE(40:2)","PE(40:3)","PE(36:1)","PI(36:2)","PE(34:3)","PE(36:3)","PE(38:1)","PE(40:4)","PE(34:2)","PE(38:4)","PE(38:7)","PE(40:1)"],"paddingInner":0,"paddingOuter":0},"axis":{"orient":"right","title":null,"ticks":false,"domain":false,"labelFontSize":10,"labelPadding":4}},
"fill":{"field":"v","type":"quantitative","scale":{"scheme":"redblue","reverse":true,"domain":[-5.1,5.1]},
"legend":{"orient":"none","legendX":654,"legendY":65,"title":null,"direction":"vertical","gradientLength":181,"gradientThickness":11,"gradientStrokeWidth":0,"values":[4,2,0,-2,-4],"labelExpr":"datum.value + ''","labelFontSize":10,"labelOffset":5}}
}}
]
}
